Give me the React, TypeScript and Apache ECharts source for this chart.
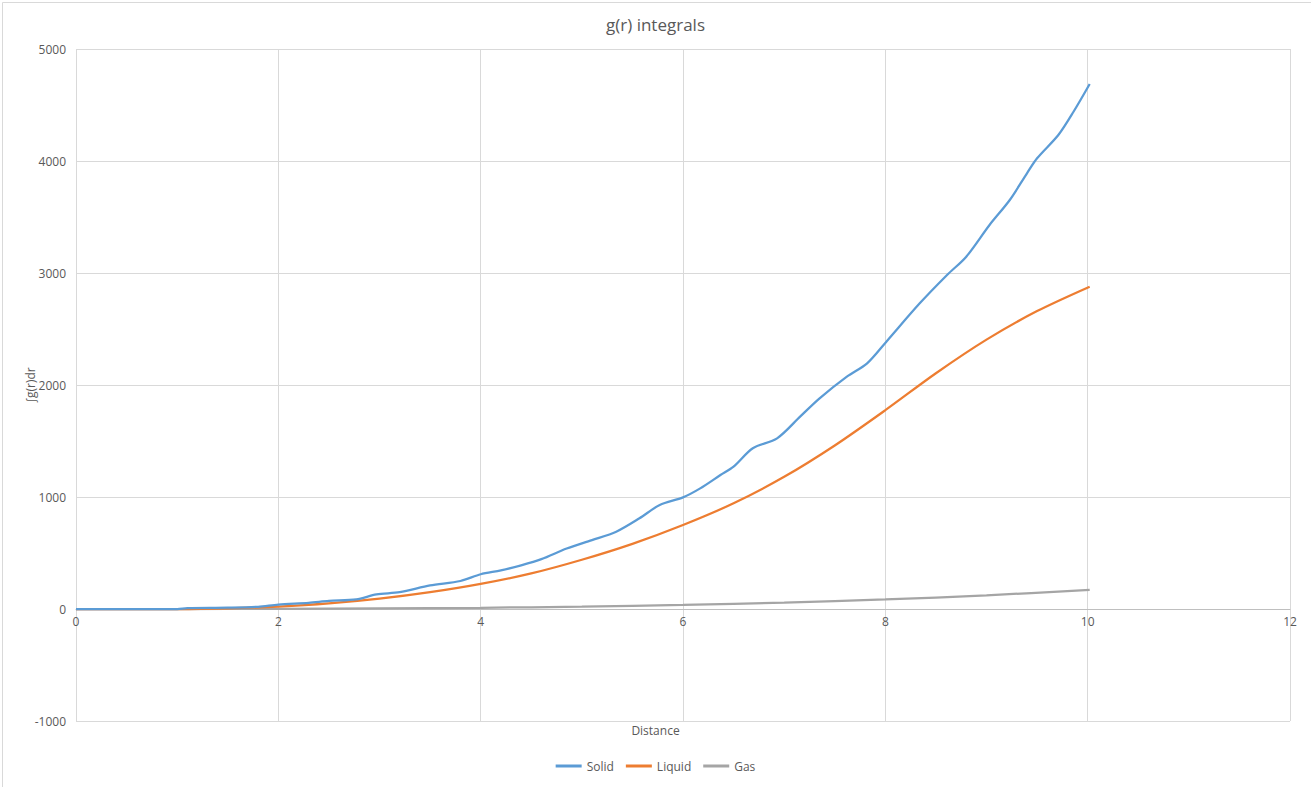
import React, { useEffect, useRef } from "react";
import * as echarts from "echarts";

const solidX = [0, 1.0, 1.1, 1.5, 1.8, 2.0, 2.3, 2.5, 2.77, 2.97, 3.2, 3.5, 3.8, 4.0, 4.2, 4.4, 4.6, 4.85, 5.1, 5.34, 5.57, 5.77, 6.0, 6.17, 6.37, 6.5, 6.69, 6.93, 7.16, 7.35, 7.62, 7.82, 8.01, 8.34, 8.61, 8.8, 9.03, 9.23, 9.4, 9.5, 9.71, 9.86, 10.02];
const solidY = [0, 0, 8, 12, 20, 40, 55, 72, 86, 130, 150, 210, 250, 310, 345, 390, 445, 540, 615, 690, 810, 929, 997, 1077, 1196, 1271, 1435, 1524, 1720, 1881, 2074, 2193, 2387, 2729, 2982, 3146, 3429, 3652, 3890, 4024, 4232, 4440, 4688];

const liquidX = [0, 0.5, 1.0, 1.5, 2.0, 2.5, 3.0, 3.5, 4.0, 4.5, 5.0, 5.5, 6.0, 6.5, 7.0, 7.5, 8.0, 8.5, 9.0, 9.5, 10.02];
const liquidY = [0, 0, 0, 6, 22, 50, 92, 150, 224, 318, 440, 582, 750, 944, 1180, 1460, 1775, 2105, 2405, 2660, 2878];

const gasX = [0, 1.0, 2, 3, 4, 5, 6, 7, 8, 9, 10.02];
const gasY = [0, 0, 2, 5, 11, 21, 36, 57, 85, 122, 170];

const seriesNames = ["Solid", "Liquid", "Gas"];
const seriesColors = ["#5B9BD5", "#ED7D31", "#A5A5A5"];

const zip = (xs: number[], ys: number[]) => xs.map((x, i) => [x, ys[i]]);

export default function App() {
  const ref = useRef<HTMLDivElement>(null);
  useEffect(() => {
    if (!ref.current) return;
    const chart = echarts.init(ref.current, null, { renderer: "svg" });
    const font = "'Open Sans', 'Liberation Sans', sans-serif";
    const datasets = [zip(solidX, solidY), zip(liquidX, liquidY), zip(gasX, gasY)];
    chart.setOption({
      animation: false,
      backgroundColor: "#ffffff",
      textStyle: { fontFamily: font },
      title: {
        text: "g(r) integrals",
        left: "center",
        top: 11,
        textStyle: { fontFamily: font, fontSize: 17, fontWeight: "normal", color: "#595959" },
      },
      grid: { left: 76, right: 21, top: 49, bottom: 66, containLabel: false },
      legend: {
        bottom: 10,
        left: "center",
        itemWidth: 26,
        itemHeight: 3,
        itemGap: 12,
        icon: "rect",
        textStyle: { fontFamily: font, fontSize: 12, color: "#595959" },
        data: seriesNames,
      },
      xAxis: {
        type: "value",
        min: 0,
        max: 12,
        interval: 2,
        offset: -112,
        axisLine: { show: true, onZero: false, lineStyle: { color: "#bfbfbf", width: 1 } },
        axisTick: { show: false },
        axisLabel: { color: "#595959", fontSize: 12, fontFamily: font, margin: 6 },
        splitLine: { show: true, lineStyle: { color: "#d9d9d9", width: 1 } },
      },
      yAxis: {
        type: "value",
        min: -1000,
        max: 5000,
        interval: 1000,
        axisLine: { show: false },
        axisTick: { show: false },
        axisLabel: { color: "#595959", fontSize: 12, fontFamily: font, margin: 10, formatter: (v: number) => String(v) },
        splitLine: { show: true, lineStyle: { color: "#d9d9d9", width: 1 } },
      },
      graphic: [
        {
          type: "rect",
          left: 0,
          top: 0,
          shape: { x: 0.5, y: 0.5, width: 1310, height: 786 },
          style: { fill: "none", stroke: "#d9d9d9", lineWidth: 1 },
          silent: true,
        },
        {
          type: "text",
          left: "center",
          top: 724,
          style: { text: "Distance", fill: "#595959", fontSize: 12, fontFamily: font },
        },
        {
          type: "text",
          x: 30,
          y: 385,
          rotation: Math.PI / 2,
          style: {
            text: "∫g(r)dr",
            fill: "#595959",
            fontSize: 12,
            fontFamily: font,
            align: "center",
            verticalAlign: "middle",
          },
        },
      ],
      series: seriesNames.map((name, i) => ({
        name,
        type: "line",
        data: datasets[i],
        smooth: 0.3,
        showSymbol: false,
        symbol: "none",
        lineStyle: { color: seriesColors[i], width: 2.25 },
        itemStyle: { color: seriesColors[i] },
        z: 3 - i,
      })),
    });
    return () => chart.dispose();
  }, []);
  return (
    <div style={{ position: "fixed", left: 0, top: 0, width: 1311, height: 787 }}>
      <div ref={ref} style={{ width: 1311, height: 787 }} />
    </div>
  );
}
